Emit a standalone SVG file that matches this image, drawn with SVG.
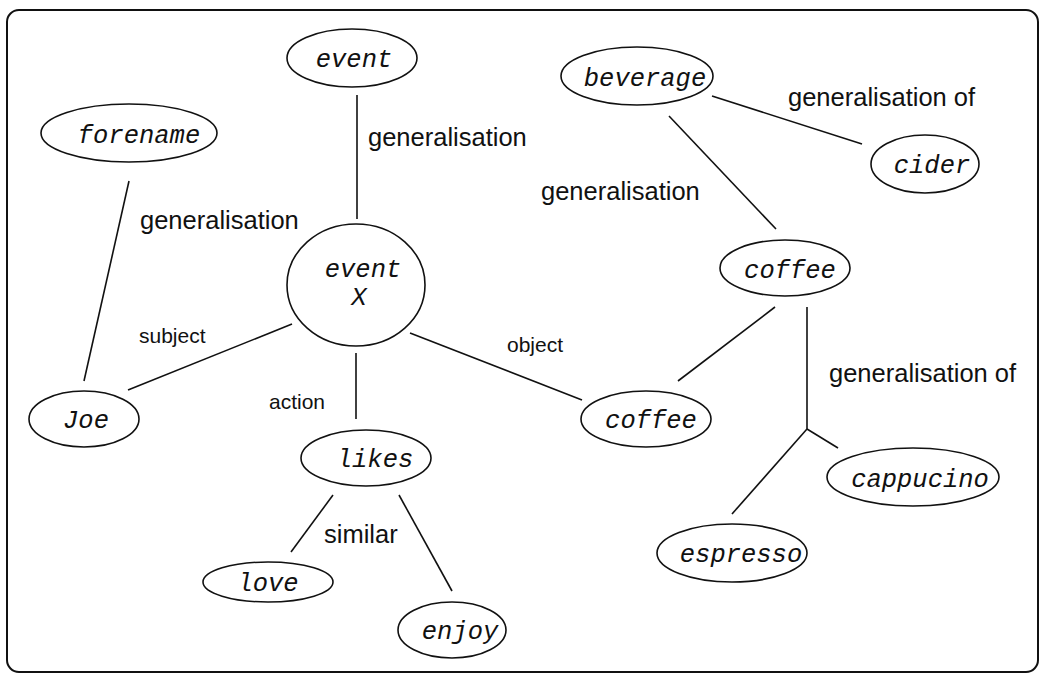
<svg xmlns="http://www.w3.org/2000/svg" width="1042" height="674" viewBox="0 0 1042 674">
  <style>
    .frame { fill: none; stroke: #111; stroke-width: 2; }
    .node ellipse { fill: #fff; stroke: #111; stroke-width: 1.6; }
    .node text { font-family: "Liberation Mono", "Courier New", monospace; font-style: italic; font-size: 25.5px; fill: #111; text-anchor: middle; }
    #connectors line { stroke: #111; stroke-width: 1.6; }
    .lbl { font-family: "Liberation Sans", Arial, sans-serif; fill: #111; }
    .big { font-size: 25.5px; }
    .small { font-size: 21px; }
  </style>
  <rect width="1042" height="674" fill="#fff"/>
  <rect class="frame" x="7" y="10" width="1031" height="662" rx="12" ry="12"/>

  <g id="connectors">
    <line x1="357" y1="95" x2="357" y2="219"/>
    <line x1="129" y1="181" x2="84" y2="381"/>
    <line x1="292" y1="324" x2="128" y2="390"/>
    <line x1="356" y1="353" x2="356" y2="419"/>
    <line x1="410" y1="333" x2="582" y2="400"/>
    <line x1="333" y1="495" x2="291" y2="552"/>
    <line x1="399" y1="495" x2="452" y2="591"/>
    <line x1="712" y1="96" x2="862" y2="144"/>
    <line x1="669" y1="116" x2="776" y2="229"/>
    <line x1="775" y1="307" x2="678" y2="381"/>
    <line x1="807" y1="307" x2="807" y2="429"/>
    <line x1="807" y1="429" x2="732" y2="514"/>
    <line x1="807" y1="429" x2="838" y2="448"/>
  </g>

  <g id="labels">
    <text class="lbl big" x="368" y="146">generalisation</text>
    <text class="lbl big" x="140" y="229">generalisation</text>
    <text class="lbl small" x="139" y="343">subject</text>
    <text class="lbl small" x="269" y="409">action</text>
    <text class="lbl small" x="507" y="352">object</text>
    <text class="lbl big" x="324" y="543">similar</text>
    <text class="lbl big" x="788" y="106">generalisation of</text>
    <text class="lbl big" x="541" y="200">generalisation</text>
    <text class="lbl big" x="829" y="382">generalisation of</text>
  </g>

  <g id="node-event" class="node">
    <ellipse cx="352" cy="58" rx="65" ry="29"/>
    <text x="354" y="67">event</text>
  </g>
  <g id="node-forename" class="node">
    <ellipse cx="129" cy="133" rx="88" ry="29"/>
    <text x="139" y="143">forename</text>
  </g>
  <g id="node-event-x" class="node">
    <ellipse cx="356" cy="285" rx="69" ry="61"/>
    <text x="363" y="277">event</text>
    <text x="359" y="305">X</text>
  </g>
  <g id="node-joe" class="node">
    <ellipse cx="84" cy="419" rx="55" ry="28"/>
    <text x="86" y="428">Joe</text>
  </g>
  <g id="node-likes" class="node">
    <ellipse cx="366" cy="458" rx="65" ry="28"/>
    <text x="375" y="467">likes</text>
  </g>
  <g id="node-love" class="node">
    <ellipse cx="268" cy="582" rx="65" ry="20"/>
    <text x="268" y="591">love</text>
  </g>
  <g id="node-enjoy" class="node">
    <ellipse cx="452" cy="630" rx="54" ry="28"/>
    <text x="460" y="639">enjoy</text>
  </g>
  <g id="node-beverage" class="node">
    <ellipse cx="637" cy="76" rx="76" ry="29"/>
    <text x="645" y="86">beverage</text>
  </g>
  <g id="node-cider" class="node">
    <ellipse cx="925" cy="164" rx="54" ry="29"/>
    <text x="932" y="173">cider</text>
  </g>
  <g id="node-coffee-type" class="node">
    <ellipse cx="785" cy="268" rx="65" ry="28"/>
    <text x="790" y="278">coffee</text>
  </g>
  <g id="node-coffee" class="node">
    <ellipse cx="646" cy="419" rx="65" ry="28"/>
    <text x="651" y="428">coffee</text>
  </g>
  <g id="node-cappucino" class="node">
    <ellipse cx="913" cy="477" rx="86" ry="29"/>
    <text x="920" y="487">cappucino</text>
  </g>
  <g id="node-espresso" class="node">
    <ellipse cx="732" cy="553" rx="75" ry="29"/>
    <text x="741" y="562">espresso</text>
  </g>
</svg>
